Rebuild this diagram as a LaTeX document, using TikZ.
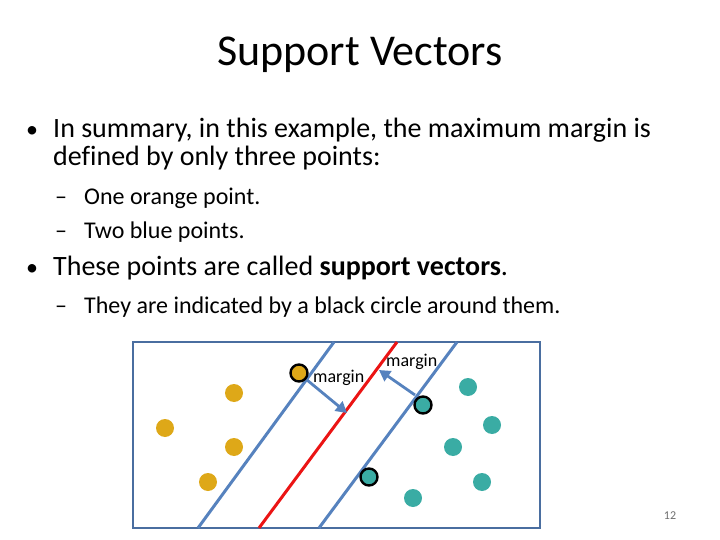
\documentclass[tikz,border=0pt]{standalone}
\usepackage{fontspec}
\setmainfont[Ligatures=NoCommon]{Carlito}
\usetikzlibrary{arrows.meta}
\definecolor{boxblue}{RGB}{74,110,160}
\definecolor{lineblue}{RGB}{86,130,190}
\definecolor{redline}{RGB}{235,20,20}
\definecolor{gold}{RGB}{222,168,24}
\definecolor{teal}{RGB}{58,172,164}
\definecolor{pagegray}{RGB}{110,110,110}
\tikzset{
  txt/.style={anchor=base west, inner sep=0pt},
  bodyfont/.style={font=\fontsize{28}{34}\selectfont},
  subfont/.style={font=\fontsize{24}{29}\selectfont},
  orangept/.style={circle, fill=gold, minimum size=18pt, inner sep=0pt},
  tealpt/.style={circle, fill=teal, minimum size=18pt, inner sep=0pt},
  svring/.style={draw=black, line width=2.4pt, minimum size=17pt},
  sepline/.style={line width=3pt},
  marrow/.style={draw=lineblue, line width=2.8pt, -{Triangle[length=11pt,width=12pt]}},
}
\begin{document}
\begin{tikzpicture}[x=1pt,y=-1pt]
\useasboundingbox (0,0) rectangle (720,540);
% title
\node[anchor=base, inner sep=0pt, font=\fontsize{44}{52}\selectfont] (title) at (360,66) {Support Vectors};
% bullets
\node[txt, font=\fontsize{24}{29}\selectfont] (b1) at (26,137.5) {•};
\node[txt, bodyfont] (t1) at (53,137.5) {In summary, in this example, the maximum margin is};
\node[txt, bodyfont] (t2) at (53,166) {defined by only three points:};
\node[txt, subfont] (d1) at (55,205) {–};
\node[txt, subfont] (s1) at (84,205) {One orange point.};
\node[txt, subfont] (d2) at (55,239) {–};
\node[txt, subfont] (s2) at (84,239) {Two blue points.};
\node[txt, font=\fontsize{24}{29}\selectfont] (b2) at (26,275) {•};
\node[txt, bodyfont] (t3) at (53,275) {These points are called \textbf{support vectors}.};
\node[txt, subfont] (d3) at (55,313) {–};
\node[txt, subfont] (s3) at (84,313) {They are indicated by a black circle around them.};
% page number
\node[anchor=base, inner sep=0pt, text=pagegray, font=\fontsize{12}{14}\selectfont] (pg) at (670,519) {12};
% box
\node[draw=boxblue, line width=2.2pt, minimum width=407pt, minimum height=186pt, inner sep=0pt] (box) at (336.5,435) {};
% lines
\coordinate (l1a) at (198,528); \coordinate (l1b) at (334,342);
\coordinate (l2a) at (259,528); \coordinate (l2b) at (397,342);
\coordinate (l3a) at (319,528); \coordinate (l3b) at (457,342);
\draw[sepline, draw=lineblue] (l1a) -- (l1b);
\draw[sepline, draw=redline] (l2a) -- (l2b);
\draw[sepline, draw=lineblue] (l3a) -- (l3b);
% orange points
\node[orangept] (o1) at (165,428) {};
\node[orangept] (o2) at (234,393) {};
\node[orangept] (o3) at (234,447) {};
\node[orangept] (o4) at (208,482) {};
\node[orangept, svring] (o5) at (299,373) {};
% teal points
\node[tealpt] (c1) at (468,387) {};
\node[tealpt] (c2) at (492,425) {};
\node[tealpt] (c3) at (453,447) {};
\node[tealpt] (c4) at (482,482) {};
\node[tealpt] (c5) at (413,498) {};
\node[tealpt, svring] (c6) at (423,405) {};
\node[tealpt, svring] (c7) at (369,477) {};
% arrows
\coordinate (a1s) at (307,380); \coordinate (a1e) at (347,413);
\coordinate (a2s) at (415,395); \coordinate (a2e) at (379,370);
\draw[marrow] (a1s) -- (a1e);
\draw[marrow] (a2s) -- (a2e);
% labels
\node[txt, font=\fontsize{18}{21}\selectfont] (m1) at (313,382) {margin};
\node[txt, font=\fontsize{18}{21}\selectfont] (m2) at (386,366) {margin};
\end{tikzpicture}
\end{document}
